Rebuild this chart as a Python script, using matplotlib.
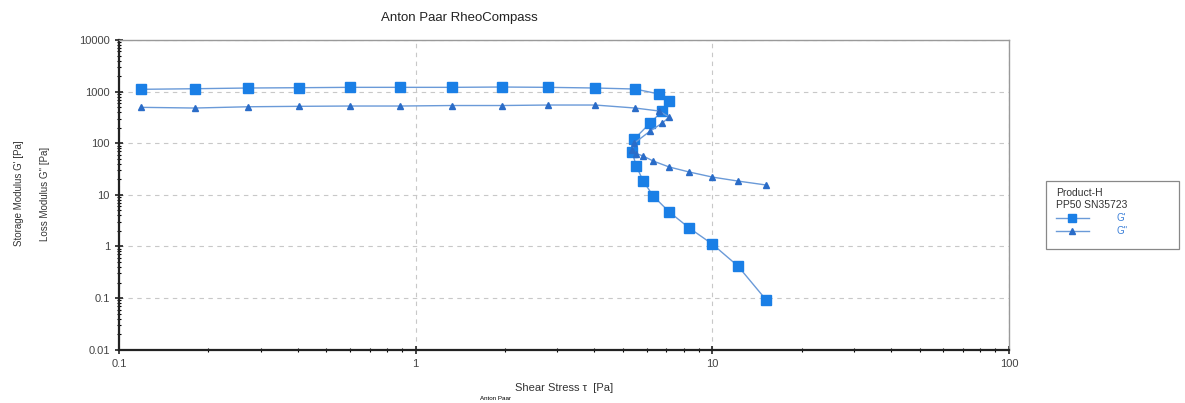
import matplotlib.pyplot as plt
from matplotlib.patches import Rectangle
from matplotlib.ticker import LogLocator, NullFormatter

plt.rcParams['font.family'] = ['Liberation Sans', 'DejaVu Sans']

# shear stress [Pa] per measuring point (shared by G' and G'')
tau = [0.119, 0.18, 0.272, 0.404, 0.60, 0.885, 1.33, 1.95, 2.79, 4.03,
       5.49, 6.62, 7.16, 6.78, 6.17, 5.45, 5.37, 5.54, 5.85, 6.32,
       7.16, 8.36, 10.0, 12.2, 15.2]
g_storage = [1109, 1138, 1175, 1191, 1211, 1211, 1211, 1228, 1211, 1175,
             1123, 898, 658, 421, 246, 120, 67.5, 36.1, 18.5, 9.48,
             4.65, 2.28, 1.11, 0.417, 0.0914]
g_loss = [496, 481, 509, 519, 526, 526, 538, 538, 550, 550,
          481, 421, 322, 246, 172, 100, 73.8, 63.0, 56.5, 45.2,
          34.6, 27.7, 22.1, 18.5, 15.5]

y_ticks = [0.01, 0.1, 1, 10, 100, 1000, 10000]
y_labels = ['0.01', '0.1', '1', '10', '100', '1000', '10000']
x_ticks = [0.1, 1, 10, 100]
x_labels = ['0.1', '1', '10', '100']

fig = plt.figure(figsize=(11.85, 4.03), dpi=100)
ax = fig.add_axes([0.1004, 0.1323, 0.7511, 0.7684])

ax.plot(tau, g_storage, color='#6a9ad8', lw=1.0, marker='s', ms=7.0,
        mfc='#1a7fe6', mec='#1a7fe6', label="G'", zorder=3)
ax.plot(tau, g_loss, color='#6a9ad8', lw=1.0, marker='^', ms=5.0,
        mfc='#2a6cc8', mec='#2a6cc8', label="G''", zorder=3)

ax.set_xscale('log')
ax.set_yscale('log')
ax.set_xlim(0.1, 100)
ax.set_ylim(0.01, 10000)
ax.set_xticks(x_ticks, x_labels)
ax.set_yticks(y_ticks, y_labels)
ax.xaxis.set_minor_locator(LogLocator(base=10, subs=range(2, 10)))
ax.yaxis.set_minor_locator(LogLocator(base=10, subs=range(2, 10)))
ax.xaxis.set_minor_formatter(NullFormatter())
ax.yaxis.set_minor_formatter(NullFormatter())
ax.tick_params(which='major', direction='inout', length=6, width=1.2,
               labelsize=8, colors='#222222', labelcolor='#444444')
ax.tick_params(which='minor', direction='inout', length=3, width=0.8)
ax.tick_params(axis='x', pad=4)

ax.grid(True, which='major', ls=(0, (4, 4)), color='#c8c8c8', lw=0.8)

for side in ['left', 'bottom']:
    ax.spines[side].set_linewidth(1.6)
    ax.spines[side].set_color('#222222')
for side in ['top', 'right']:
    ax.spines[side].set_linewidth(1.0)
    ax.spines[side].set_color('#9a9a9a')

ax.set_xlabel('Shear Stress τ  [Pa]', fontsize=8, labelpad=10, color='#333333')
fig.text(0.016, 0.52, "Storage Modulus G' [Pa]", rotation=90, fontsize=7,
         ha='center', va='center', color='#333333')
fig.text(0.038, 0.52, "Loss Modulus G'' [Pa]", rotation=90, fontsize=7,
         ha='center', va='center', color='#333333')
fig.text(0.388, 0.955, 'Anton Paar RheoCompass', fontsize=9.5,
         ha='center', va='center', color='#222222')
fig.text(0.418, 0.012, 'Anton Paar', fontsize=4.5, ha='center', va='center')

# legend frame is wider than its content in the original
fig.patches.append(Rectangle((0.8827, 0.382), 0.1122, 0.1687,
                             transform=fig.transFigure, fill=False,
                             edgecolor='#888888', lw=0.9))
leg = ax.legend(loc='upper left', bbox_to_anchor=(0.8845, 0.553),
                bbox_transform=fig.transFigure,
                title='Product-H\nPP50 SN35723', fontsize=7,
                title_fontsize=7.5, frameon=False, borderpad=0.3,
                handlelength=3.4, handletextpad=2.8, labelspacing=0.35,
                markerscale=0.9)
leg._legend_box.align = 'left'
leg.get_title().set_color('#333333')
for t in leg.get_texts():
    t.set_color('#3a7fd8')

fig.savefig('out.png', dpi=100)
